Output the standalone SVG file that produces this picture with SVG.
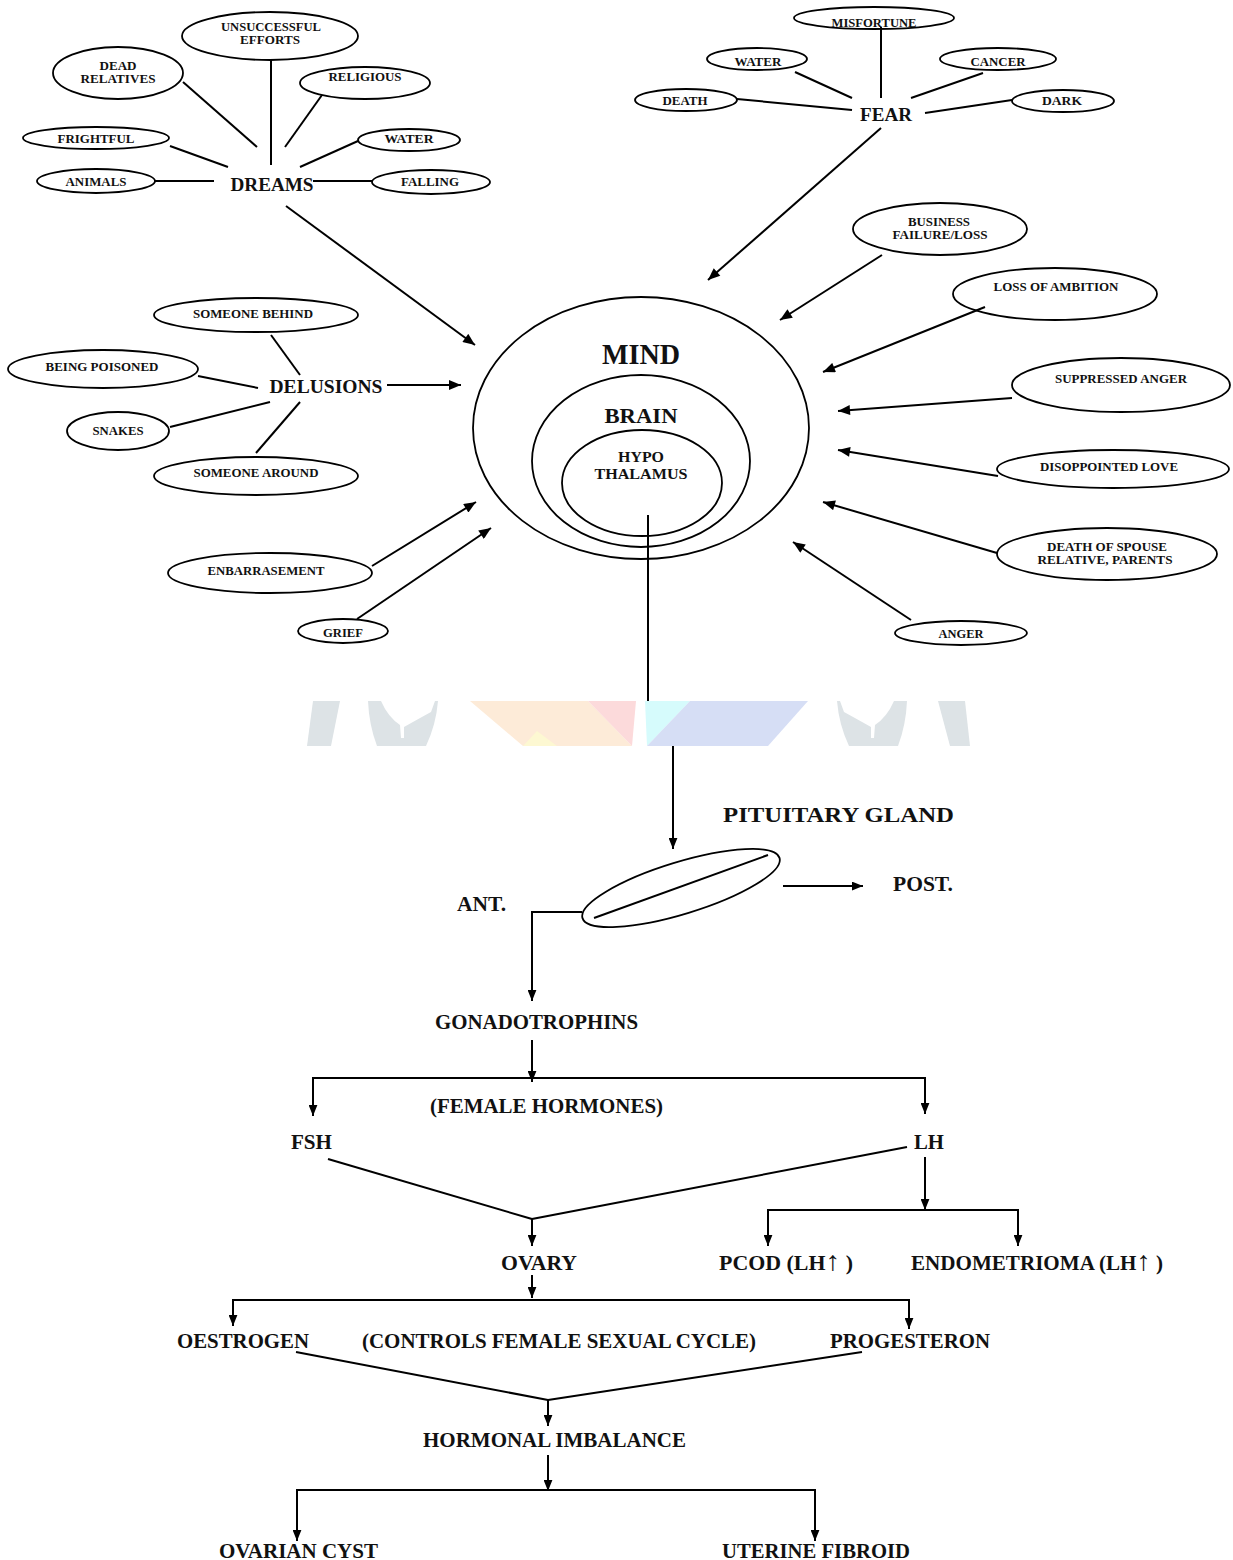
<svg xmlns="http://www.w3.org/2000/svg" width="1233" height="1560" viewBox="0 0 1233 1560">
<defs>
<marker id="ah" viewBox="0 0 12 10" refX="12" refY="5" markerWidth="13" markerHeight="10" markerUnits="userSpaceOnUse" orient="auto"><path d="M0,0 L12,5 L0,10 z" fill="#000"/></marker>
<marker id="ah2" viewBox="0 0 10 8" refX="10" refY="4" markerWidth="11" markerHeight="9" markerUnits="userSpaceOnUse" orient="auto"><path d="M0,0 L10,4 L0,8 z" fill="#000"/></marker>
</defs>
<style>
text{font-family:"Liberation Serif","Times New Roman",serif;font-weight:bold;fill:#111;text-anchor:middle}
.s{font-size:12.5px}
.m{font-size:19px}
.b{font-size:20px;text-anchor:start}
ellipse{fill:none;stroke:#000;stroke-width:1.8}
.c line,.c polyline,.c path{stroke:#000;stroke-width:2;fill:none}
.a{marker-end:url(#ah)}
.a2{marker-end:url(#ah2)}
</style>
<rect width="1233" height="1560" fill="#fff"/>

<g id="watermark">
<polygon points="313,701 340,701 331,746 307,746" fill="#dde3e6"/>
<path d="M368,701 L381,701 Q388,717 400,725 L401,738 L404,738 L404,727 Q420,718 431,712 L435,701 L438,701 Q436,725 426,746 L377,746 Q369,725 368,701 Z" fill="#dde3e6"/>
<path d="M907,701 L894,701 Q887,717 875,725 L874,738 L871,738 L871,727 Q855,718 844,712 L840,701 L837,701 Q839,725 849,746 L898,746 Q906,725 907,701 Z" fill="#dde3e6"/>
<polygon points="938,701 965,701 970,746 950,746" fill="#dde3e6"/>
<polygon points="470,701 588,701 632,746 523,746" fill="#fdebd8"/>
<polygon points="523,746 537,731 557,746" fill="#fdf8d2"/>
<polygon points="588,701 636,701 632,746" fill="#fcdadb"/>
<polygon points="645,701 690,701 647,746" fill="#d6fbfc"/>
<polygon points="690,701 808,701 768,746 647,746" fill="#d6def5"/>
</g>

<g class="c" id="connectors">
<line x1="271" y1="60" x2="271" y2="165"/>
<line x1="183" y1="82" x2="257" y2="147"/>
<line x1="322" y1="95" x2="285" y2="147"/>
<line x1="170" y1="146" x2="228" y2="167"/>
<line x1="358" y1="141" x2="300" y2="167"/>
<line x1="155" y1="181" x2="214" y2="181"/>
<line x1="313" y1="181" x2="372" y2="181"/>
<line class="a" x1="286" y1="206" x2="475" y2="345"/>
<line x1="881" y1="27" x2="881" y2="98"/>
<line x1="795" y1="72" x2="852" y2="98"/>
<line x1="983" y1="73" x2="911" y2="98"/>
<line x1="737" y1="99" x2="852" y2="110"/>
<line x1="1012" y1="100" x2="925" y2="113"/>
<line class="a" x1="881" y1="128" x2="708" y2="280"/>
<line x1="271" y1="335" x2="300" y2="375"/>
<line x1="198" y1="376" x2="258" y2="388"/>
<line x1="170" y1="427" x2="270" y2="402"/>
<line x1="256" y1="453" x2="300" y2="402"/>
<line class="a" x1="387" y1="385" x2="461" y2="385"/>
<line class="a" x1="882" y1="255" x2="780" y2="320"/>
<line class="a" x1="985" y1="307" x2="823" y2="372"/>
<line class="a" x1="1012" y1="398" x2="838" y2="411"/>
<line class="a" x1="998" y1="476" x2="838" y2="450"/>
<line class="a" x1="997" y1="553" x2="823" y2="502"/>
<line class="a" x1="911" y1="620" x2="793" y2="542"/>
<line class="a" x1="372" y1="566" x2="476" y2="502"/>
<line class="a" x1="357" y1="619" x2="491" y2="528"/>
<line x1="648" y1="515" x2="648" y2="701"/>
<line class="a2" x1="673" y1="746" x2="673" y2="849"/>
<line class="a2" x1="783" y1="886" x2="863" y2="886"/>
<polyline class="a2" points="582,912 532,912 532,1001"/>
<line class="a2" x1="532" y1="1040" x2="532" y2="1082"/>
<line x1="313" y1="1078" x2="925" y2="1078"/>
<line class="a2" x1="313" y1="1077" x2="313" y2="1116"/>
<line class="a2" x1="925" y1="1077" x2="925" y2="1114"/>
<line x1="328" y1="1159" x2="532" y2="1219"/>
<line x1="907" y1="1147" x2="532" y2="1219"/>
<line class="a2" x1="532" y1="1219" x2="532" y2="1246"/>
<line class="a2" x1="925" y1="1157" x2="925" y2="1210"/>
<line x1="768" y1="1210" x2="1018" y2="1210"/>
<line class="a2" x1="768" y1="1209" x2="768" y2="1246"/>
<line class="a2" x1="1018" y1="1209" x2="1018" y2="1246"/>
<line class="a2" x1="532" y1="1275" x2="532" y2="1298"/>
<line x1="233" y1="1300" x2="909" y2="1300"/>
<line class="a2" x1="233" y1="1299" x2="233" y2="1326"/>
<line class="a2" x1="909" y1="1299" x2="909" y2="1329"/>
<line x1="296" y1="1352" x2="548" y2="1400"/>
<line x1="862" y1="1352" x2="548" y2="1400"/>
<line class="a2" x1="548" y1="1400" x2="548" y2="1426"/>
<line class="a2" x1="548" y1="1455" x2="548" y2="1491"/>
<line x1="297" y1="1490" x2="815" y2="1490"/>
<line class="a2" x1="297" y1="1489" x2="297" y2="1541"/>
<line class="a2" x1="815" y1="1489" x2="815" y2="1541"/>
</g>

<g id="n-unsuccessful"><ellipse cx="270" cy="36" rx="88" ry="24"/><text class="s" x="271" y="31" textLength="100" lengthAdjust="spacingAndGlyphs">UNSUCCESSFUL</text><text class="s" x="270" y="44" textLength="60" lengthAdjust="spacingAndGlyphs">EFFORTS</text></g>
<g id="n-dead"><ellipse cx="118" cy="73" rx="65" ry="26"/><text class="s" x="118" y="70" textLength="37" lengthAdjust="spacingAndGlyphs">DEAD</text><text class="s" x="118" y="83" textLength="75" lengthAdjust="spacingAndGlyphs">RELATIVES</text></g>
<g id="n-religious"><ellipse cx="365" cy="83" rx="65" ry="16"/><text class="s" x="365" y="81" textLength="73" lengthAdjust="spacingAndGlyphs">RELIGIOUS</text></g>
<g id="n-frightful"><ellipse cx="96" cy="138" rx="73" ry="11"/><text class="s" x="96" y="143" textLength="77" lengthAdjust="spacingAndGlyphs">FRIGHTFUL</text></g>
<g id="n-water1"><ellipse cx="409" cy="140" rx="51" ry="11"/><text class="s" x="409" y="143" textLength="49" lengthAdjust="spacingAndGlyphs">WATER</text></g>
<g id="n-animals"><ellipse cx="96" cy="181" rx="59" ry="12"/><text class="s" x="96" y="186" textLength="61" lengthAdjust="spacingAndGlyphs">ANIMALS</text></g>
<g id="n-falling"><ellipse cx="431" cy="182" rx="59" ry="12"/><text class="s" x="430" y="186" textLength="58" lengthAdjust="spacingAndGlyphs">FALLING</text></g>
<g id="n-dreams"><text class="m" x="272" y="191" textLength="83" lengthAdjust="spacingAndGlyphs">DREAMS</text></g>

<g id="n-misfortune"><ellipse cx="874" cy="18" rx="80" ry="11"/><text class="s" x="874" y="27" textLength="85" lengthAdjust="spacingAndGlyphs">MISFORTUNE</text></g>
<g id="n-water2"><ellipse cx="757" cy="59" rx="50" ry="11"/><text class="s" x="758" y="66" textLength="47" lengthAdjust="spacingAndGlyphs">WATER</text></g>
<g id="n-cancer"><ellipse cx="998" cy="59" rx="58" ry="11"/><text class="s" x="998" y="66" textLength="55" lengthAdjust="spacingAndGlyphs">CANCER</text></g>
<g id="n-death"><ellipse cx="686" cy="100" rx="51" ry="11"/><text class="s" x="685" y="105" textLength="45" lengthAdjust="spacingAndGlyphs">DEATH</text></g>
<g id="n-dark"><ellipse cx="1063" cy="101" rx="51" ry="11"/><text class="s" x="1062" y="105" textLength="40" lengthAdjust="spacingAndGlyphs">DARK</text></g>
<g id="n-fear"><text class="m" x="886" y="121" textLength="52" lengthAdjust="spacingAndGlyphs">FEAR</text></g>

<g id="n-mind"><ellipse cx="641" cy="428" rx="168" ry="131"/><text x="641" y="364" style="font-size:29px" textLength="78" lengthAdjust="spacingAndGlyphs">MIND</text></g>
<g id="n-brain"><ellipse cx="641" cy="461" rx="109" ry="86"/><text x="641" y="423" style="font-size:22px" textLength="73" lengthAdjust="spacingAndGlyphs">BRAIN</text></g>
<g id="n-hypothalamus"><ellipse cx="642" cy="483" rx="80" ry="53"/><text x="641" y="462" style="font-size:15px" textLength="46" lengthAdjust="spacingAndGlyphs">HYPO</text><text x="641" y="479" style="font-size:15px" textLength="93" lengthAdjust="spacingAndGlyphs">THALAMUS</text></g>

<g id="n-behind"><ellipse cx="256" cy="315" rx="102" ry="17"/><text class="s" x="253" y="318" textLength="120" lengthAdjust="spacingAndGlyphs">SOMEONE BEHIND</text></g>
<g id="n-poisoned"><ellipse cx="103" cy="369" rx="95" ry="19"/><text class="s" x="102" y="371" textLength="113" lengthAdjust="spacingAndGlyphs">BEING POISONED</text></g>
<g id="n-snakes"><ellipse cx="118" cy="431" rx="51" ry="19"/><text class="s" x="118" y="435" textLength="51" lengthAdjust="spacingAndGlyphs">SNAKES</text></g>
<g id="n-around"><ellipse cx="256" cy="476" rx="102" ry="19"/><text class="s" x="256" y="477" textLength="125" lengthAdjust="spacingAndGlyphs">SOMEONE AROUND</text></g>
<g id="n-delusions"><text class="m" x="326" y="393" textLength="113" lengthAdjust="spacingAndGlyphs">DELUSIONS</text></g>

<g id="n-business"><ellipse cx="940" cy="229" rx="87" ry="26"/><text class="s" x="939" y="226" textLength="62" lengthAdjust="spacingAndGlyphs">BUSINESS</text><text class="s" x="940" y="239" textLength="95" lengthAdjust="spacingAndGlyphs">FAILURE/LOSS</text></g>
<g id="n-ambition"><ellipse cx="1055" cy="294" rx="102" ry="26"/><text class="s" x="1056" y="291" textLength="125" lengthAdjust="spacingAndGlyphs">LOSS OF AMBITION</text></g>
<g id="n-suppressed"><ellipse cx="1121" cy="385" rx="109" ry="27"/><text class="s" x="1121" y="383" textLength="132" lengthAdjust="spacingAndGlyphs">SUPPRESSED ANGER</text></g>
<g id="n-love"><ellipse cx="1113" cy="469" rx="116" ry="19"/><text class="s" x="1109" y="471" textLength="138" lengthAdjust="spacingAndGlyphs">DISOPPOINTED LOVE</text></g>
<g id="n-spouse"><ellipse cx="1107" cy="554" rx="110" ry="26"/><text class="s" x="1107" y="551" textLength="120" lengthAdjust="spacingAndGlyphs">DEATH OF SPOUSE</text><text class="s" x="1105" y="564" textLength="135" lengthAdjust="spacingAndGlyphs">RELATIVE, PARENTS</text></g>
<g id="n-anger"><ellipse cx="961" cy="633" rx="66" ry="12"/><text class="s" x="961" y="638" textLength="45" lengthAdjust="spacingAndGlyphs">ANGER</text></g>
<g id="n-enbarrasement"><ellipse cx="270" cy="573" rx="102" ry="20"/><text class="s" x="266" y="575" textLength="117" lengthAdjust="spacingAndGlyphs">ENBARRASEMENT</text></g>
<g id="n-grief"><ellipse cx="343" cy="631" rx="45" ry="12"/><text class="s" x="343" y="637" textLength="40" lengthAdjust="spacingAndGlyphs">GRIEF</text></g>

<g id="n-pituitary"><text class="b" x="723" y="822" style="font-size:21px" textLength="231" lengthAdjust="spacingAndGlyphs">PITUITARY GLAND</text><ellipse cx="681" cy="888" rx="103" ry="26" transform="rotate(-17 681 888)"/><line x1="594" y1="918" x2="768" y2="855" stroke="#000" stroke-width="2"/></g>
<g id="n-post"><text class="b" x="893" y="891" textLength="60" lengthAdjust="spacingAndGlyphs">POST.</text></g>
<g id="n-ant"><text class="b" x="457" y="911" textLength="49" lengthAdjust="spacingAndGlyphs">ANT.</text></g>
<g id="n-gonadotrophins"><text class="b" x="435" y="1029" textLength="203" lengthAdjust="spacingAndGlyphs">GONADOTROPHINS</text></g>
<g id="n-female"><text class="b" x="430" y="1113" textLength="233" lengthAdjust="spacingAndGlyphs">(FEMALE HORMONES)</text></g>
<g id="n-fsh"><text class="b" x="291" y="1149" textLength="41" lengthAdjust="spacingAndGlyphs">FSH</text></g>
<g id="n-lh"><text class="b" x="914" y="1149" textLength="30" lengthAdjust="spacingAndGlyphs">LH</text></g>
<g id="n-ovary"><text class="b" x="501" y="1270" textLength="76" lengthAdjust="spacingAndGlyphs">OVARY</text></g>
<g id="n-pcod"><text class="b" x="719" y="1270" textLength="134" lengthAdjust="spacingAndGlyphs">PCOD (LH<tspan style="font-size:27px">↑</tspan> )</text></g>
<g id="n-endometrioma"><text class="b" x="911" y="1270" textLength="252" lengthAdjust="spacingAndGlyphs">ENDOMETRIOMA (LH<tspan style="font-size:27px">↑</tspan> )</text></g>
<g id="n-oestrogen"><text class="b" x="177" y="1348" textLength="132" lengthAdjust="spacingAndGlyphs">OESTROGEN</text></g>
<g id="n-controls"><text class="b" x="362" y="1348" textLength="394" lengthAdjust="spacingAndGlyphs">(CONTROLS FEMALE SEXUAL CYCLE)</text></g>
<g id="n-progesteron"><text class="b" x="830" y="1348" textLength="160" lengthAdjust="spacingAndGlyphs">PROGESTERON</text></g>
<g id="n-imbalance"><text class="b" x="423" y="1447" textLength="263" lengthAdjust="spacingAndGlyphs">HORMONAL IMBALANCE</text></g>
<g id="n-cyst"><text class="b" x="219" y="1558" textLength="159" lengthAdjust="spacingAndGlyphs">OVARIAN CYST</text></g>
<g id="n-fibroid"><text class="b" x="722" y="1558" textLength="188" lengthAdjust="spacingAndGlyphs">UTERINE FIBROID</text></g>
</svg>
